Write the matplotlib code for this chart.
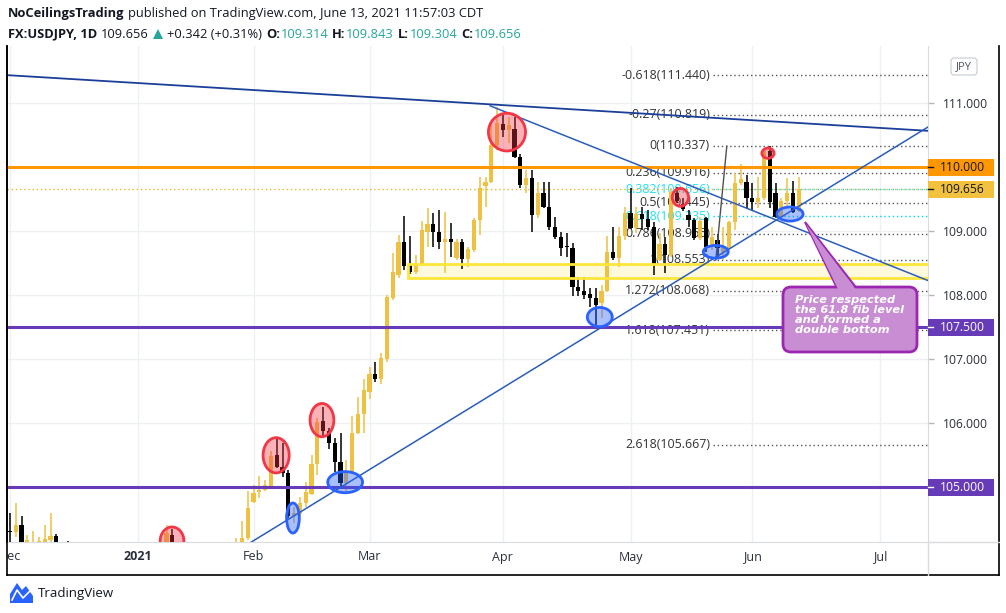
import matplotlib
matplotlib.use('Agg')
import matplotlib.pyplot as plt
import numpy as np
import matplotlib.transforms as mtransforms
from matplotlib.transforms import Bbox, TransformedBbox
from matplotlib.patches import Ellipse, Rectangle, FancyBboxPatch, Polygon

# ---------------- data ----------------
first_bar = -22  # bar index of Dec 1, 2020 (bar 0 = Jan 4, 2021)
opens = [104.31,104.30,104.41,103.90,103.95,104.05,104.10,104.18,104.24,104.00,104.05,103.65,103.50,103.10,103.30,103.30,103.60,103.55,103.60,103.80,103.50,103.20,
         103.25,103.15,102.70,103.05,103.80,103.95,104.26,103.75,103.90,103.85,103.80,103.70,103.85,103.55,103.50,103.75,103.75,103.60,104.15,104.21,
         104.77,104.92,104.96,105.01,105.50,105.32,105.22,104.55,104.58,104.76,104.90,105.36,106.04,105.88,105.69,105.40,105.07,105.24,105.85,106.15,
         106.49,106.77,106.69,107.00,107.96,108.32,108.84,108.47,108.36,108.47,108.99,109.11,108.99,108.83,108.88,108.58,108.84,108.57,108.71,109.18,109.71,109.77,110.35,
         110.68,110.58,110.60,110.16,109.72,109.83,109.25,109.60,109.38,109.07,108.91,108.77,108.74,108.13,108.07,108.02,107.96,107.88,108.07,108.68,108.58,108.92,
         109.29,109.05,109.27,109.19,109.07,108.55,108.80,108.63,109.60,109.43,109.25,109.18,108.90,109.21,108.76,108.86,108.68,108.74,109.14,109.75,109.77,
         109.52,109.46,109.52,110.25,109.60,109.22,109.47,109.60,109.314]
highs = [104.60,104.76,104.55,104.26,104.32,104.22,104.41,104.60,104.27,104.12,104.16,103.70,103.55,103.40,103.65,103.70,103.70,103.80,103.90,103.85,103.55,103.30,
         103.30,103.20,103.45,103.90,104.10,104.41,104.35,104.05,104.21,103.95,103.95,104.05,103.90,103.65,103.85,103.90,103.85,104.21,104.47,104.94,
         105.04,105.18,105.11,105.56,105.77,105.69,105.27,104.69,104.85,105.08,105.50,106.08,106.25,105.93,105.77,105.85,105.43,106.11,106.41,106.69,
         106.88,106.96,107.10,108.00,108.66,108.94,109.24,108.93,108.63,109.16,109.36,109.29,109.33,109.30,109.13,108.88,108.88,108.75,109.20,109.85,109.85,110.71,110.94,
         110.85,110.79,110.79,110.20,109.96,109.96,109.77,109.77,109.77,109.22,108.99,108.97,108.82,108.29,108.29,108.11,108.11,108.16,108.92,109.07,109.07,109.38,
         109.68,109.38,109.38,109.33,109.14,108.97,108.91,109.68,109.69,109.52,109.33,109.21,109.22,109.22,109.07,108.96,109.07,109.16,109.91,110.05,109.88,
         109.75,109.85,110.30,110.33,109.75,109.52,109.83,109.79,109.843]
lows = [104.05,104.22,103.70,103.80,103.90,103.95,104.00,104.05,103.90,103.85,103.60,103.35,102.90,103.00,103.10,103.20,103.30,103.50,103.50,103.40,103.05,102.95,
        102.70,102.60,102.60,102.95,103.65,103.85,103.65,103.60,103.70,103.55,103.70,103.65,103.50,103.35,103.40,103.60,103.55,103.55,104.00,104.18,
        104.76,104.83,104.94,104.98,105.30,105.16,104.52,104.44,104.55,104.69,104.88,105.19,105.80,105.60,105.24,104.99,104.93,105.20,105.83,105.85,
        106.38,106.65,106.62,106.95,107.93,108.27,108.40,108.34,108.34,108.45,108.76,108.76,108.72,108.35,108.60,108.55,108.41,108.44,108.68,108.94,109.38,109.75,110.27,
        110.47,110.38,110.15,109.68,109.60,108.99,109.21,109.36,109.02,108.88,108.61,108.60,107.99,107.99,107.94,107.82,107.47,107.65,108.05,108.55,108.44,108.86,
        109.03,108.97,109.02,109.02,108.32,108.53,108.35,108.60,109.44,109.32,109.07,108.86,108.86,108.68,108.71,108.58,108.55,108.71,109.02,109.73,109.36,
        109.33,109.36,109.49,109.36,109.20,109.19,109.38,109.28,109.304]
closes = [104.30,104.41,103.85,104.18,104.05,104.16,104.19,104.24,103.95,104.05,103.65,103.50,103.10,103.30,103.30,103.60,103.55,103.60,103.80,103.50,103.20,103.25,
          103.15,102.70,103.05,103.80,103.95,104.29,103.75,103.90,103.85,103.80,103.70,103.85,103.55,103.50,103.75,103.75,103.60,104.05,104.21,104.68,
          104.91,104.96,105.04,105.49,105.32,105.22,104.55,104.60,104.76,104.93,105.36,106.02,105.88,105.69,105.40,105.07,105.24,105.85,106.15,106.52,
          106.77,106.69,107.02,107.97,108.37,108.84,108.46,108.36,108.47,109.02,109.11,108.99,108.83,108.88,108.83,108.83,108.57,108.72,109.18,109.68,109.77,110.35,110.69,
          110.58,110.66,110.16,109.72,109.83,109.25,109.60,109.38,109.07,108.91,108.74,108.76,108.13,108.07,108.01,107.96,107.85,108.07,108.68,108.58,108.92,109.29,
          109.05,109.27,109.19,109.07,108.47,108.80,108.63,109.61,109.47,109.35,109.18,108.90,109.16,108.76,108.91,108.74,108.74,109.14,109.75,109.82,109.52,
          109.46,109.52,110.25,109.46,109.22,109.47,109.60,109.30,109.656]

month_bars = [-22, 0, 20, 40, 63, 85, 106, 128]
month_labels = ['Dec', '2021', 'Feb', 'Mar', 'Apr', 'May', 'Jun', 'Jul']

price_ticks = [105, 106, 107, 108, 109, 110, 111]
last_price = 109.656
level_orange = 110.0
levels_purple = [107.5, 105.0]
zone_low, zone_high, zone_start = 108.27, 108.49, 46.7

fib_ratios = ['-0.618', '-0.27', '0', '0.236', '0.382', '0.5', '0.618', '0.786', '1', '1.272', '1.618', '2.618']
fib_prices = [111.440, 110.819, 110.337, 109.916, 109.656, 109.445, 109.235, 108.965, 108.553, 108.068, 107.451, 105.667]
fib_start = 99.2
fib_cyan = ['0.382', '0.618']

# trend line anchors (bar index, price)
lineA = [(-22.5, 111.44), (136.3, 110.57)]
lineB = [(60.8, 110.96), (136.3, 108.23)]
lineC = [(19.9, 104.16), (136.3, 110.63)]
fib_diag = [(99.7, 108.55), (101.6, 110.33)]

# ellipses: (bar, price, width_bars, height_price)
red_ellipses = [(5.95, 104.16, 4.1, 0.44), (23.9, 105.50, 4.5, 0.55), (31.8, 106.05, 4.1, 0.52),
                (63.7, 110.55, 6.4, 0.59), (93.6, 109.53, 2.8, 0.28), (108.7, 110.22, 2.1, 0.16)]
blue_ellipses = [(26.8, 104.52, 2.2, 0.47), (35.8, 105.08, 6.0, 0.33), (79.7, 107.66, 4.3, 0.30),
                 (99.7, 108.68, 4.3, 0.20), (112.5, 109.27, 4.5, 0.22)]

header1 = [('NoCeilingsTrading', 'bold', '#131722'),
           ('published on TradingView.com, June 13, 2021 11:57:03 CDT', 'normal', '#131722')]
header2 = [('FX:USDJPY, 1D', 'bold', '#131722'), ('109.656', 'normal', '#131722'), ('TRI', None, None),
           ('+0.342 (+0.31%)', 'normal', '#131722'),
           ('O:', 'bold', '#131722'), ('109.314', 'normal', '#26A69A'),
           ('H:', 'bold', '#131722'), ('109.843', 'normal', '#26A69A'),
           ('L:', 'bold', '#131722'), ('109.304', 'normal', '#26A69A'),
           ('C:', 'bold', '#131722'), ('109.656', 'normal', '#26A69A')]

# ---------------- layout ----------------
W, H = 1006, 613
L, R, T, B = 7, 928, 46, 542
fig = plt.figure(figsize=(W / 100, H / 100), dpi=100)
fig.patch.set_facecolor('white')
ax = fig.add_axes([L / W, (H - B) / H, (R - L) / W, (B - T) / H])
x0, x1 = -22.5, 136.29
ppu = 64.0  # pixels per price unit
ax.set_xlim(x0, x1)
ax.set_ylim(111.0 - (B - 103.3) / ppu, 111.0 + (103.3 - T) / ppu)

FONT = 'Open Sans'
UP, DN = '#EFC143', '#000000'
TXT = '#131722'

# grid
for mb in month_bars:
    ax.axvline(mb, color='#EEF0F4', lw=1, zorder=0)
for pt in price_ticks:
    ax.axhline(pt, color='#EEF0F4', lw=1, zorder=0)

# price axis on the right
ax.yaxis.tick_right()
ax.set_yticks(price_ticks)
boxed = [level_orange] + levels_purple
ax.set_yticklabels(['' if v in boxed else f'{v:.3f}' for v in price_ticks])
ax.tick_params(axis='y', length=4, width=1, color='#B2B5BE', pad=7, labelsize=8.7, labelcolor='#2A2E39')
for lab in ax.get_yticklabels():
    lab.set_fontfamily(FONT)
ax.set_xticks([])
ax.spines['top'].set_visible(False)
ax.spines['left'].set_color('#000000')
ax.spines['left'].set_linewidth(1.2)
ax.spines['right'].set_color('#D9DBE0')
ax.spines['bottom'].set_color('#D9DBE0')

# time axis labels (clipped at pane's left edge)
clipbb = TransformedBbox(Bbox([[L / W, 0], [R / W, 1]]), fig.transFigure)
tr_x = mtransforms.blended_transform_factory(ax.transData, ax.transAxes)
for mb, ml in zip(month_bars, month_labels):
    t = ax.text(mb, -15 / (B - T), ml, transform=tr_x, ha='center', va='center', fontsize=9,
                family=FONT, color='#2A2E39', fontweight='bold' if ml == '2021' else 'normal', clip_on=True)
    t.set_clip_box(clipbb)

# zone fill (below candles)
ax.add_patch(Rectangle((zone_start, zone_low), x1 + 5 - zone_start, zone_high - zone_low,
                       facecolor='#FFF9DC', edgecolor='none', zorder=1))

# fib levels
for r, p in zip(fib_ratios, fib_prices):
    cyan = r in fib_cyan
    col = '#00D8F0' if cyan else '#555555'
    ax.hlines(p, fib_start, x1, colors=col, linestyles=(0, (1, 2)), lw=1, zorder=1.5)
    ax.text(fib_start - 0.5, p, f'{r}({p:.3f})', ha='right', va='center', fontsize=8.9, family=FONT,
            color='#1FE0F5' if cyan else '#333333', zorder=1.6)

# last price dotted line
ax.axhline(last_price, color='#E8B830', lw=1, linestyle=(0, (1, 2)), zorder=1.7)

# candles
idx = np.arange(first_bar, first_bar + len(opens))
o, h, l, c = map(np.array, (opens, highs, lows, closes))
cols = np.where(c >= o, UP, DN)
ax.vlines(idx, l, h, colors=cols, lw=1.1, zorder=4)
ax.bar(idx, np.maximum(np.abs(c - o), 0.018), bottom=np.minimum(o, c), width=0.74, color=cols,
       linewidth=0, zorder=5)

# zone border
ax.add_patch(Rectangle((zone_start, zone_low), x1 + 5 - zone_start, zone_high - zone_low,
                       facecolor='none', edgecolor='#FDE63A', lw=2, zorder=6))

# horizontal levels
ax.axhline(level_orange, color='#FF9800', lw=2.2, zorder=6)
for lv in levels_purple:
    ax.axhline(lv, color='#673AB7', lw=2.2, zorder=6)

# trend lines
ax.axline(lineA[0], lineA[1], color='#1B3F98', lw=1.3, zorder=7)
ax.axline(lineC[0], lineC[1], color='#2A5DBA', lw=1.1, zorder=7)
slopeB = (lineB[1][1] - lineB[0][1]) / (lineB[1][0] - lineB[0][0])
ax.plot([lineB[0][0], 140], [lineB[0][1], lineB[0][1] + slopeB * (140 - lineB[0][0])], color='#2A5DBA', lw=1.1, zorder=7)
ax.plot([fib_diag[0][0], fib_diag[1][0]], [fib_diag[0][1], fib_diag[1][1]], color='#505050', lw=1, zorder=7)

# ellipses
for (ex, ey, ew, eh) in red_ellipses:
    ax.add_patch(Ellipse((ex, ey), ew, eh, facecolor=(0.95, 0.21, 0.27, 0.38), edgecolor='#F23645', lw=2, zorder=8))
for (ex, ey, ew, eh) in blue_ellipses:
    ax.add_patch(Ellipse((ex, ey), ew, eh, facecolor=(0.16, 0.38, 1.0, 0.4), edgecolor='#2962FF', lw=2, zorder=8))

# price label boxes on the axis
tr_y = mtransforms.blended_transform_factory(ax.transAxes, ax.transData)
bw = 66 / (R - L)
bh = 17 / ppu
for val, fc, tc in [(level_orange, '#FF9800', '#131722'), (last_price, '#F2C23E', '#131722'),
                    (levels_purple[0], '#673AB7', 'white'), (levels_purple[1], '#673AB7', 'white')]:
    ax.add_patch(Rectangle((1.0, val - bh / 2), bw, bh, transform=tr_y, facecolor=fc, edgecolor='none',
                           clip_on=False, zorder=9))
    ax.plot([1.0, 1.0 + 5 / (R - L)], [val, val], transform=tr_y, color='#131722' if tc != 'white' else 'white',
            lw=1, clip_on=False, zorder=10)
    ax.text(1.0 + 12 / (R - L), val, f'{val:.3f}', transform=tr_y, ha='left', va='center', fontsize=8.7,
            family=FONT, color=tc, clip_on=False, zorder=10)

# ---------------- overlay (pixel coordinates) ----------------
ov = fig.add_axes([0, 0, 1, 1])
ov.set_xlim(0, W)
ov.set_ylim(H, 0)
ov.axis('off')
ov.patch.set_alpha(0)

# frame
ov.plot([L, L], [T, 575], color='#000000', lw=1.2)
ov.plot([L, 999], [575, 575], color='#000000', lw=1.2)
ov.plot([999, 999], [T, 575], color='#000000', lw=1.2)
ov.plot([R, R], [B, 575], color='#D9DBE0', lw=1)
ov.plot([R, 999], [B, B], color='#D9DBE0', lw=1)

# JPY box
ov.add_patch(FancyBboxPatch((951, 58), 26, 17, boxstyle='round,pad=0,rounding_size=3', facecolor='white',
                            edgecolor='#D1D4DC', lw=1))
ov.text(964, 66.5, 'JPY', ha='center', va='center', fontsize=8, family=FONT, color='#50535E')

# callout
ov.add_patch(Polygon([(805, 222), (838, 290), (858, 290)], closed=True, facecolor='#C98DD4', edgecolor='#9C27B0', lw=1.5))
ov.add_patch(FancyBboxPatch((783, 287), 134, 65, boxstyle='round,pad=0,rounding_size=8', facecolor='#C98DD4',
                            edgecolor='#9C27B0', lw=2))
ov.add_patch(Polygon([(806, 224), (839, 291), (857, 291)], closed=True, facecolor='#C98DD4', edgecolor='none'))
ov.text(795, 295, 'Price respected\nthe 61.8 fib level\nand formed a\ndouble bottom', ha='left', va='top',
        fontsize=8.2, family='DejaVu Sans', fontweight='bold', fontstyle='italic', color='white', linespacing=1.02)

# header, laid out fragment by fragment
renderer = fig.canvas.get_renderer()


def chain(frags, x, y, gap):
    for txt, wt, col in frags:
        if txt == 'TRI':
            ov.add_patch(Polygon([(x, y + 5), (x + 10, y + 5), (x + 5, y - 5)], closed=True,
                                 facecolor='#26A69A', edgecolor='none'))
            x += 10 + gap
            continue
        t = ov.text(x, y, txt, ha='left', va='center', fontsize=9.3, family=FONT, fontweight=wt, color=col)
        bb = t.get_window_extent(renderer)
        x = bb.x1 + (gap if not txt.endswith(':') else 0.5)


chain(header1, 8, 14, 4)
chain(header2, 8, 34, 4)

# TradingView logo
ov.add_patch(Polygon([(10, 603), (10, 594), (17, 583), (22, 590), (26, 586), (33, 596), (33, 603)], closed=True,
                     facecolor='#2962FF', edgecolor='none'))
ov.plot([12, 17, 23, 31], [600, 590, 598, 590], color='white', lw=1.2)
ov.text(38, 593, 'TradingView', ha='left', va='center', fontsize=9.5, family=FONT, color=TXT)

fig.savefig('out.png', dpi=100)
